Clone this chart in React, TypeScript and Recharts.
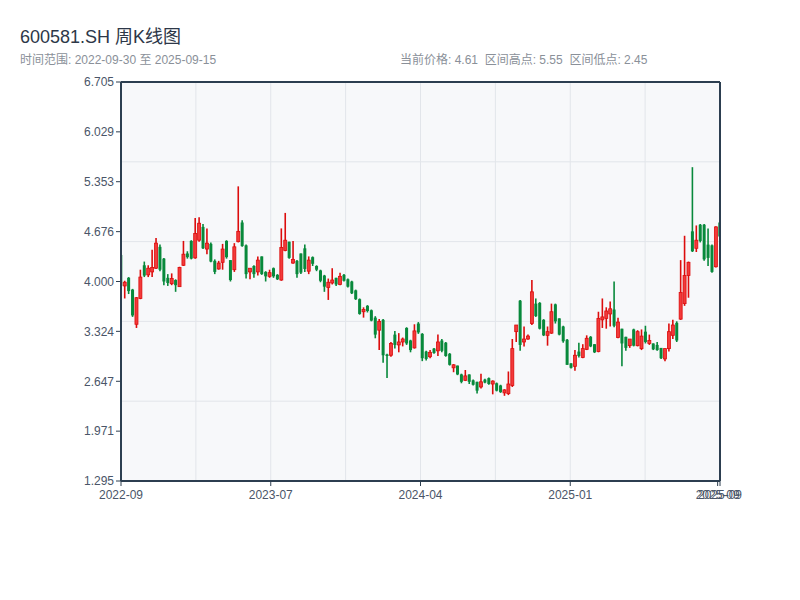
import { Bar, CartesianGrid, ComposedChart, ReferenceLine, XAxis, YAxis } from "recharts";

// weekly OHLC, 2022-09-30 .. 2025-09-15
const openPrices = [
  4.36, 3.94, 4.05, 3.89, 3.42, 3.77, 4.22, 4.09, 4.13, 4.18, 4.47, 4.31, 4.05, 3.97, 4.02, 3.93, 4.22, 4.38, 4.55, 4.32,
  4.56, 4.74, 4.44, 4.51, 4.28, 4.17, 4.26, 4.55, 4.29, 4.16, 4.54, 4.80, 4.49, 4.13, 4.21, 4.13, 4.34, 4.13, 4.07, 4.18,
  4.09, 4.02, 4.42, 4.54, 4.25, 4.28, 4.38, 4.45, 4.14, 4.33, 4.21, 4.15, 4.08, 3.92, 3.98, 4.05, 3.96, 4.09, 4.03, 4.00,
  3.88, 3.76, 3.59, 3.67, 3.61, 3.51, 3.34, 3.48, 3.01, 3.00, 3.28, 3.14, 3.18, 3.37, 3.20, 3.10, 3.43, 3.29, 3.05, 2.98,
  3.09, 3.06, 3.20, 3.17, 3.02, 2.83, 2.86, 2.74, 2.66, 2.74, 2.66, 2.64, 2.57, 2.67, 2.69, 2.61, 2.62, 2.59, 2.49, 2.48,
  2.59, 3.32, 3.74, 3.18, 3.22, 3.43, 3.70, 3.71, 3.48, 3.27, 3.30, 3.69, 3.50, 3.39, 3.21, 2.89, 2.85, 3.05, 2.97, 3.08,
  3.25, 3.15, 3.05, 3.48, 3.50, 3.56, 3.62, 3.24, 3.36, 3.25, 3.13, 3.35, 3.13, 3.09, 3.32, 3.16, 3.16, 3.14, 3.10, 2.95,
  3.09, 3.27, 3.44, 3.49, 3.70, 4.08, 4.68, 4.45, 4.77, 4.77, 4.50, 4.49, 4.20, 4.80,
];
const closePrices = [
  3.94, 3.99, 3.87, 3.54, 3.78, 4.06, 4.08, 4.18, 4.19, 4.52, 4.16, 4.00, 3.98, 4.04, 3.95, 4.19, 4.37, 4.33, 4.31, 4.65,
  4.79, 4.45, 4.52, 4.27, 4.13, 4.25, 4.44, 4.33, 4.02, 4.47, 4.68, 4.48, 4.10, 4.18, 4.10, 4.29, 4.10, 4.07, 4.12, 4.07,
  4.03, 4.46, 4.56, 4.32, 4.30, 4.10, 4.12, 4.17, 4.29, 4.24, 4.16, 4.01, 3.93, 3.99, 4.02, 3.96, 4.07, 4.01, 3.93, 3.84,
  3.76, 3.56, 3.62, 3.60, 3.47, 3.28, 3.46, 3.00, 2.99, 3.16, 3.14, 3.18, 3.22, 3.16, 3.07, 3.33, 3.31, 2.96, 2.95, 3.04,
  3.03, 3.18, 3.06, 2.99, 2.87, 2.87, 2.74, 2.64, 2.72, 2.64, 2.60, 2.52, 2.64, 2.63, 2.61, 2.65, 2.52, 2.50, 2.53, 2.61,
  3.09, 3.41, 3.14, 3.22, 3.26, 3.86, 3.53, 3.36, 3.27, 3.32, 3.59, 3.46, 3.28, 3.19, 2.87, 2.83, 3.00, 2.99, 3.09, 3.23,
  3.12, 3.04, 3.50, 3.52, 3.60, 3.63, 3.40, 3.45, 3.16, 3.10, 3.22, 3.13, 3.32, 3.26, 3.18, 3.20, 3.08, 3.07, 2.96, 3.09,
  3.32, 3.41, 3.20, 3.85, 4.08, 4.26, 4.41, 4.56, 4.55, 4.30, 4.32, 4.13, 4.74, 4.61,
];
const highPrices = [
  4.37, 4.01, 4.06, 3.90, 3.79, 4.16, 4.27, 4.22, 4.43, 4.59, 4.50, 4.32, 4.10, 4.11, 4.03, 4.20, 4.55, 4.41, 4.56, 4.86,
  4.87, 4.78, 4.72, 4.53, 4.30, 4.28, 4.51, 4.56, 4.29, 4.52, 5.29, 4.83, 4.50, 4.18, 4.22, 4.34, 4.34, 4.14, 4.16, 4.19,
  4.10, 4.72, 4.93, 4.54, 4.55, 4.29, 4.38, 4.50, 4.34, 4.34, 4.22, 4.16, 4.09, 4.04, 4.18, 4.05, 4.12, 4.10, 4.04, 4.01,
  3.89, 3.77, 3.65, 3.68, 3.62, 3.53, 3.49, 3.49, 3.02, 3.18, 3.33, 3.30, 3.24, 3.38, 3.21, 3.42, 3.45, 3.30, 3.06, 3.07,
  3.10, 3.28, 3.22, 3.18, 3.03, 2.88, 2.86, 2.75, 2.80, 2.74, 2.67, 2.64, 2.75, 2.68, 2.70, 2.66, 2.63, 2.60, 2.54, 2.78,
  3.22, 3.41, 3.75, 3.39, 3.28, 4.02, 3.77, 3.72, 3.49, 3.39, 3.70, 3.70, 3.50, 3.40, 3.22, 2.89, 3.07, 3.17, 3.15, 3.27,
  3.26, 3.15, 3.59, 3.77, 3.65, 3.73, 4.00, 3.51, 3.36, 3.25, 3.22, 3.36, 3.34, 3.35, 3.40, 3.28, 3.16, 3.18, 3.10, 3.09,
  3.43, 3.48, 3.46, 4.29, 4.62, 4.27, 5.55, 4.76, 4.78, 4.78, 4.72, 4.50, 4.75, 4.83,
];
const lowPrices = [
  3.93, 3.77, 3.83, 3.52, 3.37, 3.76, 4.06, 4.06, 4.06, 4.17, 4.14, 3.95, 3.94, 3.95, 3.86, 3.93, 4.21, 4.31, 4.30, 4.31,
  4.54, 4.44, 4.37, 4.26, 4.10, 4.16, 4.16, 4.31, 4.00, 4.13, 4.53, 4.47, 4.04, 4.03, 4.05, 4.08, 4.09, 4.00, 4.05, 4.05,
  4.02, 4.01, 4.41, 4.31, 4.24, 4.05, 4.10, 4.13, 4.10, 4.21, 4.14, 3.99, 3.86, 3.75, 3.96, 3.94, 3.95, 4.00, 3.92, 3.83,
  3.75, 3.55, 3.51, 3.58, 3.46, 3.23, 3.07, 2.90, 2.69, 2.98, 3.09, 3.04, 3.12, 3.14, 3.04, 3.09, 3.29, 2.92, 2.93, 2.96,
  3.02, 2.99, 3.04, 2.98, 2.86, 2.77, 2.73, 2.62, 2.65, 2.61, 2.59, 2.48, 2.55, 2.62, 2.60, 2.47, 2.51, 2.49, 2.45, 2.46,
  2.57, 3.18, 3.06, 3.12, 3.21, 3.41, 3.52, 3.35, 3.26, 3.13, 3.29, 3.43, 3.27, 3.17, 2.87, 2.82, 2.79, 2.97, 2.96, 3.07,
  3.11, 3.03, 3.04, 3.37, 3.36, 3.39, 3.38, 3.23, 2.85, 3.06, 3.10, 3.12, 3.12, 3.07, 3.16, 3.14, 3.07, 3.06, 2.95, 2.92,
  3.05, 3.22, 3.18, 3.48, 3.67, 3.78, 4.40, 4.40, 4.53, 4.28, 4.21, 4.12, 4.19, 4.60,
];

const yTicks = [6.705, 6.029, 5.353, 4.676, 4.0, 3.324, 2.647, 1.971, 1.295];
const yGrid = [5.623, 4.541, 3.459, 2.377];
const xTickPos = [0, 38.25, 76.5, 114.75, 152.4, 153];
const xTickLabels = ["2022-09", "2023-07", "2024-04", "2025-01", "2025-09", "2025-09"];
const xGrid = [19.125, 38.25, 57.375, 76.5, 95.625, 114.75, 133.875];

const rows = openPrices.map((o, i) => ({
  i,
  open: o,
  close: closePrices[i],
  high: highPrices[i],
  low: lowPrices[i],
  range: [lowPrices[i], highPrices[i]],
}));

const FONT = '"Liberation Sans", "Noto Sans CJK SC", sans-serif';
const AXIS = "#2c3e50";
const UP = "#dc0c0c";
const DOWN = "#08893b";

function Candle(props: any) {
  const { x, y, width, height, payload } = props;
  if (x == null || y == null || !payload) return null;
  const top = Math.min(y, y + height);
  const h = Math.abs(height);
  const { open, close, high, low } = payload;
  const span = high - low || 1;
  const py = (v: number) => top + ((high - v) / span) * h;
  const cx = x + width / 2;
  const up = close >= open;
  const color = up ? UP : DOWN;
  const bodyTop = py(Math.max(open, close));
  const bodyH = Math.max(1, py(Math.min(open, close)) - bodyTop);
  return (
    <g>
      <line x1={cx} x2={cx} y1={top} y2={top + h} stroke={color} strokeWidth={1.6} />
      <rect
        x={cx - 1.5}
        y={bodyTop}
        width={3}
        height={bodyH}
        fill={up ? "#f23a3a" : color}
        stroke={color}
        strokeWidth={up ? 0.8 : 0}
      />
    </g>
  );
}

export default function App() {
  const tickStyle = { fontSize: 12, fill: "#4a5568", fontFamily: FONT };
  return (
    <div style={{ position: "absolute", left: 0, top: 0, width: 800, height: 600, background: "#fff", fontFamily: FONT }}>
      <div style={{ position: "absolute", left: 20, top: 22, fontSize: 18, color: "#2d3748" }}>600581.SH 周K线图</div>
      <div style={{ position: "absolute", left: 20, top: 50, fontSize: 12, color: "#8a9099" }}>
        时间范围: 2022-09-30 至 2025-09-15
      </div>
      <div style={{ position: "absolute", left: 400, top: 50, fontSize: 12, color: "#8a9099", whiteSpace: "pre" }}>
        {"当前价格: 4.61  区间高点: 5.55  区间低点: 2.45"}
      </div>
      <ComposedChart
        width={800}
        height={600}
        data={rows}
        margin={{ top: 82, right: 70, bottom: 89, left: 60 }}
        style={{ position: "absolute", left: 0, top: 0 }}
      >
        <CartesianGrid
          xAxisId="main"
          yAxisId="left"
          fill="#f7f8fa"
          stroke="#e2e5ea"
          horizontalValues={yGrid}
          verticalValues={xGrid}
        />
        <XAxis
          xAxisId="main"
          dataKey="i"
          type="number"
          domain={[0, 153]}
          allowDataOverflow
          ticks={xTickPos}
          interval={0}
          tickFormatter={(v: number) => xTickLabels[xTickPos.indexOf(v)] ?? ""}
          tick={tickStyle}
          height={30}
          tickSize={5}
          tickMargin={4}
          axisLine={{ stroke: AXIS, strokeWidth: 2 }}
          tickLine={{ stroke: AXIS }}
        />
        <YAxis
          yAxisId="left"
          type="number"
          domain={[1.295, 6.705]}
          allowDataOverflow
          ticks={yTicks}
          interval={0}
          tickFormatter={(v: number) => v.toFixed(3)}
          tick={tickStyle}
          width={61}
          tickSize={5}
          axisLine={{ stroke: AXIS, strokeWidth: 2 }}
          tickLine={{ stroke: AXIS }}
        />
        <YAxis
          yAxisId="right"
          orientation="right"
          type="number"
          domain={[1.295, 6.705]}
          allowDataOverflow
          ticks={yTicks}
          interval={0}
          tick={false}
          width={10}
          tickSize={6}
          axisLine={{ stroke: AXIS, strokeWidth: 2 }}
          tickLine={{ stroke: AXIS }}
        />
        <ReferenceLine xAxisId="main" yAxisId="left" y={6.705} stroke={AXIS} strokeWidth={2} />
        <Bar
          xAxisId="main"
          yAxisId="left"
          dataKey="range"
          barSize={4}
          shape={Candle}
          isAnimationActive={false}
        />
      </ComposedChart>
    </div>
  );
}
